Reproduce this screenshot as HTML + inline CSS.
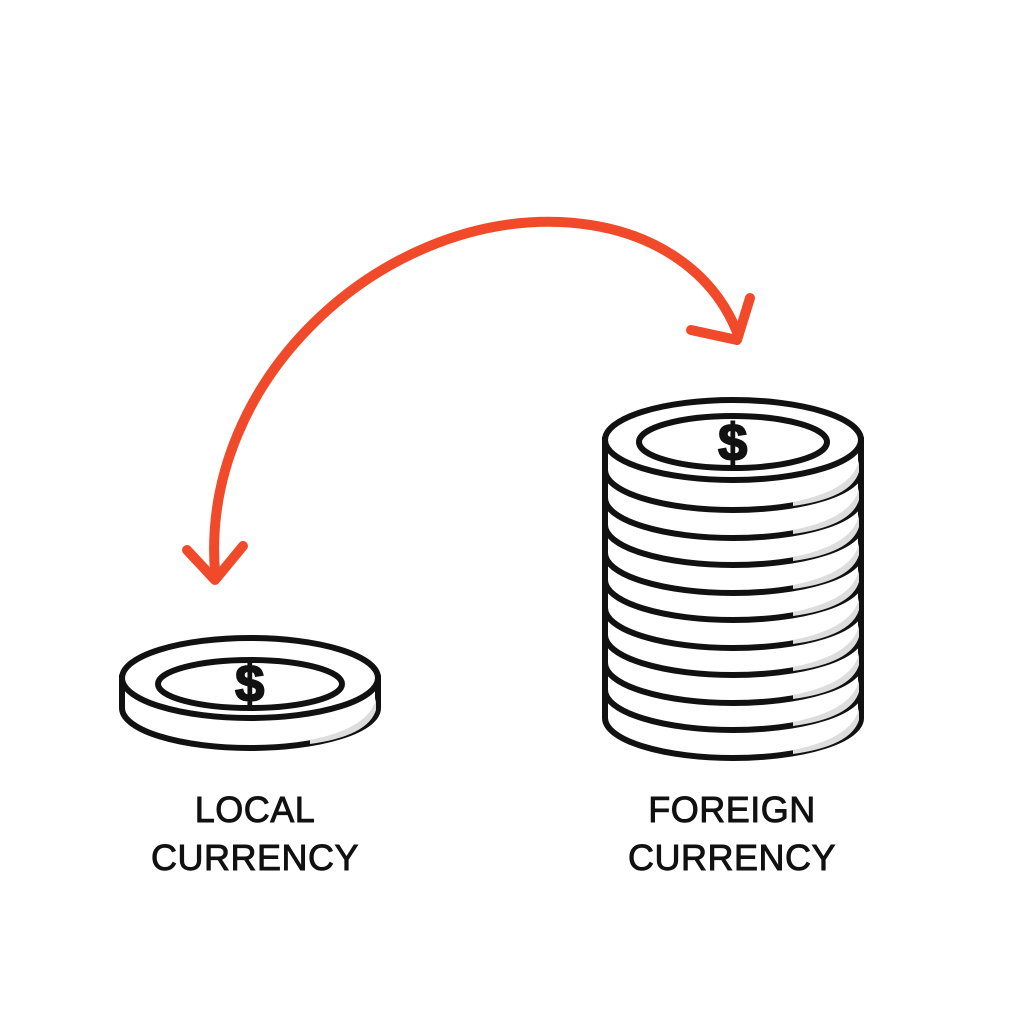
<!DOCTYPE html>
<html><head><style>
html,body{margin:0;padding:0;background:#fff;}
svg{display:block}
text{font-family:"Liberation Sans",sans-serif;font-size:36px;fill:#111;stroke:#111;stroke-width:0.9px;text-anchor:middle;letter-spacing:0.5px}
</style></head><body>
<svg width="1024" height="1024" viewBox="0 0 1024 1024" xmlns="http://www.w3.org/2000/svg">
<defs>
<g id="coin">
  <path d="M-128,0 L-128,30 A128,40 0 0 0 128,30 L128,0 Z" fill="#fff" stroke="#111" stroke-width="6"/>
  <path d="M60,62 Q120,50 126,20 L126,32 Q118,58 60,66 Z" fill="#ddd"/>
  <ellipse cx="0" cy="0" rx="128" ry="40" fill="#fff" stroke="#111" stroke-width="6"/>
</g>
</defs>
<path d="M215,572 C200,380 380,215 560,222 C650,226 712,270 737,332" fill="none" stroke="#f04a2a" stroke-width="10" stroke-linecap="round"/>
<path d="M187,550 L215,580 L243,546" fill="none" stroke="#f04a2a" stroke-width="10" stroke-linecap="round" stroke-linejoin="round"/>
<path d="M691,330 L737,340 L750,298" fill="none" stroke="#f04a2a" stroke-width="10" stroke-linecap="round" stroke-linejoin="round"/>

<g transform="translate(250,678)">
  <use href="#coin"/>
  <ellipse cx="0" cy="6" rx="92" ry="24" fill="none" stroke="#111" stroke-width="6"/>
  <text x="0" y="23" style="font-size:52px;font-weight:bold;stroke-width:2px">$</text>
</g>

<g transform="translate(733,0)">
  <use href="#coin" y="688"/>
  <use href="#coin" y="660"/>
  <use href="#coin" y="633"/>
  <ellipse cx="0" cy="645" rx="92" ry="22" fill="none" stroke="#111" stroke-width="6"/>
  <use href="#coin" y="605"/>
  <use href="#coin" y="578"/>
  <use href="#coin" y="550"/>
  <use href="#coin" y="523"/>
  <use href="#coin" y="495"/>
  <use href="#coin" y="468"/>
  <use href="#coin" y="440"/>
  <ellipse cx="0" cy="442" rx="94" ry="26" fill="none" stroke="#111" stroke-width="6"/>
  <text x="0" y="460" style="font-size:52px;font-weight:bold;stroke-width:2px">$</text>
</g>

<text x="255" y="822">LOCAL</text>
<text x="255" y="870">CURRENCY</text>
<text x="732" y="822">FOREIGN</text>
<text x="732" y="870">CURRENCY</text>
</svg>
</body></html>
